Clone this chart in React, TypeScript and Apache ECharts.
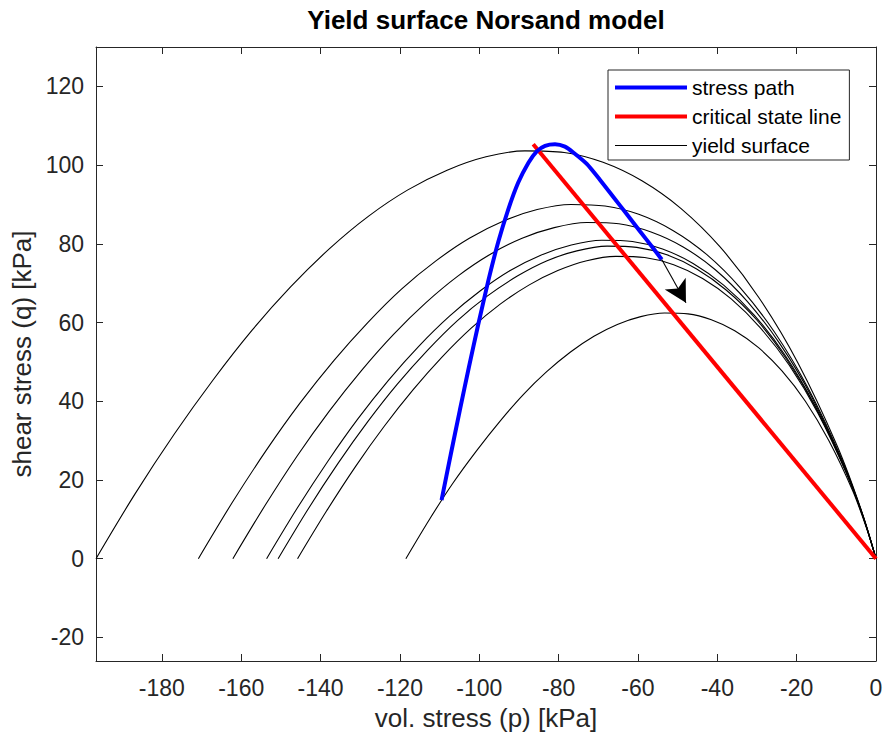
import React, { useEffect, useRef } from "react";
import * as echarts from "echarts";

const FONT = "'Liberation Sans', Arial, sans-serif";

const titleText = "Yield surface Norsand model";
const xName = "vol. stress (p) [kPa]";
const yName = "shear stress (q) [kPa]";

const xTicks = [-180, -160, -140, -120, -100, -80, -60, -40, -20, 0];
const yTicks = [-20, 0, 20, 40, 60, 80, 100, 120];
const xMin = -196.6;
const xMax = 0;
const yMin = -26;
const yMax = 130;

// yield surfaces: [p, q]
const yieldA = [
  [-196.6, 0], [-186.8, 16.4], [-176.9, 31.6], [-167.1, 45.4], [-157.3, 58.0], [-147.5, 69.1],
  [-137.6, 78.9], [-127.8, 87.1], [-118.0, 93.7], [-108.1, 98.7], [-98.3, 102.1], [-88.5, 103.6],
  [-78.6, 103.2], [-68.8, 100.7], [-59.0, 96.0], [-49.2, 89.0], [-39.3, 79.2], [-29.5, 66.3],
  [-19.7, 49.8], [-9.8, 28.7], [-3.9, 12.9], [0, 0],
];
const yieldB = [
  [-170.8, 0], [-162.3, 14.2], [-153.7, 27.5], [-145.2, 39.5], [-136.6, 50.4], [-128.1, 60.0],
  [-119.6, 68.5], [-111.0, 75.6], [-102.5, 81.4], [-93.9, 85.8], [-85.4, 88.7], [-76.9, 90.0],
  [-68.3, 89.6], [-59.8, 87.5], [-51.2, 83.4], [-42.7, 77.3], [-34.2, 68.8], [-25.6, 57.6],
  [-17.1, 43.3], [-8.5, 25.0], [-3.4, 11.2], [0, 0],
];
const yieldC = [
  [-162.1, 0], [-154.0, 13.5], [-145.9, 26.1], [-137.8, 37.5], [-129.7, 47.8], [-121.6, 57.0],
  [-113.5, 65.0], [-105.4, 71.8], [-97.3, 77.3], [-89.2, 81.4], [-81.1, 84.1], [-72.9, 85.4],
  [-64.8, 85.1], [-56.7, 83.0], [-48.6, 79.2], [-40.5, 73.4], [-32.4, 65.3], [-24.3, 54.7],
  [-16.2, 41.1], [-8.1, 23.7], [-3.2, 10.7], [0, 0],
];
const yieldD = [
  [-153.6, 0], [-145.9, 12.8], [-138.2, 24.7], [-130.6, 35.5], [-122.9, 45.3], [-115.2, 54.0],
  [-107.5, 61.6], [-99.8, 68.0], [-92.2, 73.2], [-84.5, 77.1], [-76.8, 79.7], [-69.1, 80.9],
  [-61.4, 80.6], [-53.8, 78.7], [-46.1, 75.0], [-38.4, 69.5], [-30.7, 61.9], [-23.0, 51.8],
  [-15.4, 38.9], [-7.7, 22.5], [-3.1, 10.1], [0, 0],
];
const yieldE = [
  [-150.7, 0], [-143.2, 12.5], [-135.6, 24.2], [-128.1, 34.8], [-120.6, 44.4], [-113.0, 53.0],
  [-105.5, 60.5], [-98.0, 66.7], [-90.4, 71.8], [-82.9, 75.7], [-75.4, 78.2], [-67.8, 79.4],
  [-60.3, 79.1], [-52.7, 77.2], [-45.2, 73.6], [-37.7, 68.2], [-30.1, 60.7], [-22.6, 50.8],
  [-15.1, 38.2], [-7.5, 22.0], [-3.0, 9.9], [0, 0],
];
const yieldF = [
  [-145.8, 0], [-138.5, 12.1], [-131.2, 23.4], [-123.9, 33.7], [-116.6, 43.0], [-109.4, 51.2],
  [-102.1, 58.5], [-94.8, 64.6], [-87.5, 69.5], [-80.2, 73.2], [-72.9, 75.7], [-65.6, 76.8],
  [-58.3, 76.5], [-51.0, 74.7], [-43.7, 71.2], [-36.5, 66.0], [-29.2, 58.7], [-21.9, 49.2],
  [-14.6, 36.9], [-7.3, 21.3], [-2.9, 9.6], [0, 0],
];
const yieldG = [
  [-118.5, 0], [-112.6, 9.9], [-106.7, 19.1], [-100.7, 27.4], [-94.8, 34.9], [-88.9, 41.7],
  [-83.0, 47.5], [-77.0, 52.5], [-71.1, 56.5], [-65.2, 59.5], [-59.3, 61.5], [-53.3, 62.4],
  [-47.4, 62.2], [-41.5, 60.7], [-35.6, 57.9], [-29.6, 53.6], [-23.7, 47.7], [-17.8, 40.0],
  [-11.9, 30.0], [-5.9, 17.3], [-2.4, 7.8], [0, 0],
];
const yieldSurfaces = [yieldA, yieldB, yieldC, yieldD, yieldE, yieldF, yieldG];

const stressPath = [
  [-109.5, 14.9], [-107.2, 26.4], [-104.9, 37.7], [-102.6, 48.7], [-100.3, 59.3], [-97.7, 70.7],
  [-95.2, 80.5], [-92.7, 88.7], [-90.2, 95.5], [-87.6, 100.6], [-85.5, 103.5], [-83.4, 104.9],
  [-80.9, 105.3], [-78.4, 104.7], [-76.3, 103.2], [-72.9, 100.3], [-69.6, 96.3], [-66.2, 91.9],
  [-62.8, 87.5], [-59.5, 83.2], [-56.1, 78.8], [-54.0, 76.0],
];
const criticalStateLine = [[-86.4, 105.3], [0, 0]];
const arrowFrom = [-54.0, 76.0];
const arrowTo = [-47.9, 65.0];

const legendNames = ["stress path", "critical state line", "yield surface"];
const legendIcons = [
  "path://M0,0 L72,0 L72,4 L0,4 Z",
  "path://M0,0 L72,0 L72,4 L0,4 Z",
  "path://M0,0 L72,0 L72,1.2 L0,1.2 Z",
];

const AXIS_COLOR = "#262626";

export default function App() {
  const ref = useRef<HTMLDivElement>(null);
  useEffect(() => {
    if (!ref.current) return;
    const chart = echarts.init(ref.current, null, { renderer: "svg" });

    const baseX = {
      type: "value",
      min: xMin,
      max: xMax,
      splitLine: { show: false },
      axisLine: { show: true, onZero: false, lineStyle: { color: AXIS_COLOR, width: 1 } },
      axisTick: { show: true, inside: true, length: 7, customValues: xTicks, lineStyle: { color: AXIS_COLOR } },
    };
    const baseY = {
      type: "value",
      min: yMin,
      max: yMax,
      splitLine: { show: false },
      axisLine: { show: true, onZero: false, lineStyle: { color: AXIS_COLOR, width: 1 } },
      axisTick: { show: true, inside: true, length: 7, customValues: yTicks, lineStyle: { color: AXIS_COLOR } },
    };

    const series: any[] = yieldSurfaces.map((d) => ({
      type: "line",
      name: "yield surface",
      data: d,
      smooth: 0.3,
      showSymbol: false,
      symbol: "none",
      lineStyle: { color: "#000000", width: 1.1 },
      itemStyle: { color: "#000000" },
      silent: true,
      z: 2,
    }));
    series.push({
      type: "line",
      name: "critical state line",
      data: criticalStateLine,
      showSymbol: false,
      symbol: "none",
      lineStyle: { color: "#ff0000", width: 4 },
      itemStyle: { color: "#ff0000" },
      z: 3,
    });
    series.push({
      type: "line",
      name: "stress path",
      data: stressPath,
      smooth: 0.2,
      showSymbol: false,
      symbol: "none",
      lineStyle: { color: "#0000ff", width: 4 },
      itemStyle: { color: "#0000ff" },
      z: 4,
      markLine: {
        silent: true,
        symbol: ["none", "arrow"],
        symbolSize: [18, 22],
        label: { show: false },
        lineStyle: { color: "#000000", width: 1.1, type: "solid" },
        itemStyle: { color: "#000000" },
        emphasis: { disabled: true },
        data: [[{ coord: arrowFrom }, { coord: arrowTo }]],
      },
    });

    chart.setOption({
      animation: false,
      textStyle: { fontFamily: FONT },
      grid: { left: 96, right: 12, top: 47, bottom: 79 },
      graphic: [
        {
          type: "text",
          x: 486,
          y: 20,
          style: {
            text: titleText,
            font: `bold 26px ${FONT}`,
            fill: "#000000",
            textAlign: "center",
            textVerticalAlign: "middle",
          },
        },
      ],
      legend: {
        data: legendNames.map((name, i) => ({ name, icon: legendIcons[i] })),
        orient: "vertical",
        left: 608,
        top: 70,
        itemWidth: 72,
        itemHeight: 14,
        itemGap: 8,
        padding: [7, 8, 4, 7],
        borderColor: AXIS_COLOR,
        borderWidth: 1,
        backgroundColor: "#ffffff",
        selectedMode: false,
        textStyle: { fontSize: 21, color: "#000000", fontFamily: FONT },
      },
      xAxis: [
        {
          ...baseX,
          position: "bottom",
          name: xName,
          nameLocation: "middle",
          nameGap: 44,
          nameTextStyle: { fontSize: 26, color: AXIS_COLOR, fontFamily: FONT },
          axisLabel: {
            show: true,
            customValues: xTicks,
            fontSize: 23,
            color: AXIS_COLOR,
            margin: 15,
            fontFamily: FONT,
          },
        },
        {
          ...baseX,
          position: "top",
          axisLabel: { show: false },
        },
      ],
      yAxis: [
        {
          ...baseY,
          position: "left",
          name: yName,
          nameLocation: "middle",
          nameGap: 53,
          nameTextStyle: { fontSize: 26, color: AXIS_COLOR, fontFamily: FONT },
          axisLabel: {
            show: true,
            customValues: yTicks,
            fontSize: 23,
            color: AXIS_COLOR,
            margin: 12,
            fontFamily: FONT,
          },
        },
        {
          ...baseY,
          position: "right",
          axisLabel: { show: false },
        },
      ],
      series,
    });
    return () => chart.dispose();
  }, []);
  return (
    <div
      ref={ref}
      style={{ position: "fixed", left: 0, top: 0, width: 888, height: 740, background: "#ffffff" }}
    />
  );
}
